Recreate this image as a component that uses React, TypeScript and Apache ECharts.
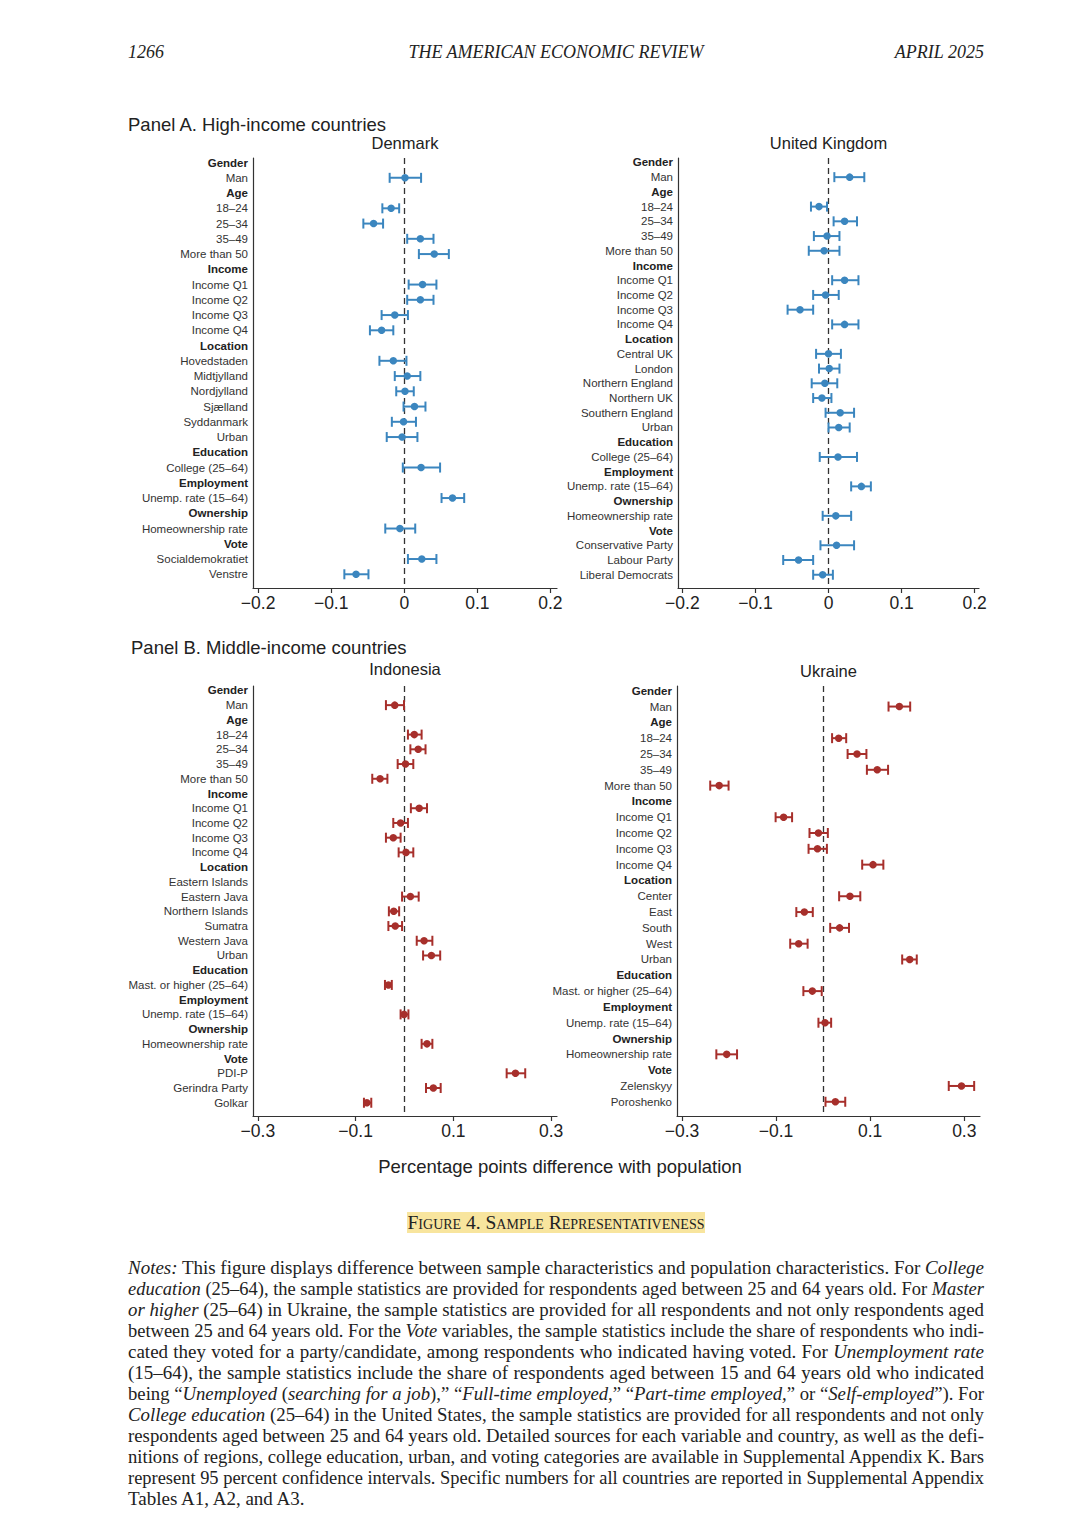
import React, { useEffect, useLayoutEffect, useRef } from 'react';
import * as echarts from 'echarts';

// ---------------- DATA ----------------
const HEADERS = ['Gender', 'Age', 'Income', 'Location', 'Education', 'Employment', 'Ownership', 'Vote'];

const dkCategories = ['Gender', 'Man', 'Age', '18–24', '25–34', '35–49', 'More than 50', 'Income', 'Income Q1', 'Income Q2', 'Income Q3', 'Income Q4', 'Location', 'Hovedstaden', 'Midtjylland', 'Nordjylland', 'Sjælland', 'Syddanmark', 'Urban', 'Education', 'College (25–64)', 'Employment', 'Unemp. rate (15–64)', 'Ownership', 'Homeownership rate', 'Vote', 'Socialdemokratiet', 'Venstre'];
const dkEstimate = [null, 0.001, null, -0.018, -0.042, 0.022, 0.041, null, 0.025, 0.022, -0.013, -0.031, null, -0.015, 0.004, 0.001, 0.014, -0.001, -0.003, null, 0.023, null, 0.066, null, -0.006, null, 0.024, -0.066];
const dkLower = [null, -0.020, null, -0.030, -0.056, 0.004, 0.020, null, 0.006, 0.004, -0.031, -0.047, null, -0.034, -0.013, -0.011, -0.001, -0.017, -0.024, null, -0.002, null, 0.051, null, -0.026, null, 0.005, -0.082];
const dkUpper = [null, 0.023, null, -0.007, -0.029, 0.040, 0.061, null, 0.044, 0.040, 0.005, -0.015, null, 0.003, 0.022, 0.013, 0.029, 0.016, 0.018, null, 0.049, null, 0.082, null, 0.015, null, 0.044, -0.049];

const ukCategories = ['Gender', 'Man', 'Age', '18–24', '25–34', '35–49', 'More than 50', 'Income', 'Income Q1', 'Income Q2', 'Income Q3', 'Income Q4', 'Location', 'Central UK', 'London', 'Northern England', 'Northern UK', 'Southern England', 'Urban', 'Education', 'College (25–64)', 'Employment', 'Unemp. rate (15–64)', 'Ownership', 'Homeownership rate', 'Vote', 'Conservative Party', 'Labour Party', 'Liberal Democrats'];
const ukEstimate = [null, 0.029, null, -0.013, 0.022, -0.002, -0.006, null, 0.022, -0.004, -0.039, 0.022, null, 0.000, 0.001, -0.005, -0.009, 0.016, 0.014, null, 0.013, null, 0.045, null, 0.010, null, 0.011, -0.041, -0.008];
const ukLower = [null, 0.008, null, -0.024, 0.007, -0.020, -0.027, null, 0.005, -0.021, -0.056, 0.005, null, -0.017, -0.013, -0.023, -0.021, -0.004, 0.000, null, -0.012, null, 0.031, null, -0.008, null, -0.011, -0.062, -0.021];
const ukUpper = [null, 0.049, null, -0.002, 0.039, 0.015, 0.015, null, 0.041, 0.014, -0.021, 0.041, null, 0.017, 0.015, 0.012, 0.004, 0.035, 0.029, null, 0.039, null, 0.058, null, 0.031, null, 0.035, -0.021, 0.006];

const idCategories = ['Gender', 'Man', 'Age', '18–24', '25–34', '35–49', 'More than 50', 'Income', 'Income Q1', 'Income Q2', 'Income Q3', 'Income Q4', 'Location', 'Eastern Islands', 'Eastern Java', 'Northern Islands', 'Sumatra', 'Western Java', 'Urban', 'Education', 'Mast. or higher (25–64)', 'Employment', 'Unemp. rate (15–64)', 'Ownership', 'Homeownership rate', 'Vote', 'PDI-P', 'Gerindra Party', 'Golkar'];
const idEstimate = [null, -0.020, null, 0.020, 0.028, 0.002, -0.050, null, 0.030, -0.008, -0.023, 0.003, null, null, 0.012, -0.022, -0.019, 0.040, 0.055, null, -0.033, null, -0.001, null, 0.046, null, 0.227, 0.059, -0.077];
const idLower = [null, -0.038, null, 0.007, 0.012, -0.014, -0.066, null, 0.013, -0.023, -0.038, -0.012, null, null, -0.005, -0.032, -0.033, 0.025, 0.038, null, -0.040, null, -0.008, null, 0.035, null, 0.209, 0.044, -0.083];
const idUpper = [null, -0.001, null, 0.035, 0.043, 0.018, -0.035, null, 0.046, 0.007, -0.008, 0.018, null, null, 0.029, -0.011, -0.005, 0.057, 0.073, null, -0.026, null, 0.008, null, 0.057, null, 0.247, 0.074, -0.068];

const uaCategories = ['Gender', 'Man', 'Age', '18–24', '25–34', '35–49', 'More than 50', 'Income', 'Income Q1', 'Income Q2', 'Income Q3', 'Income Q4', 'Location', 'Center', 'East', 'South', 'West', 'Urban', 'Education', 'Mast. or higher (25–64)', 'Employment', 'Unemp. rate (15–64)', 'Ownership', 'Homeownership rate', 'Vote', 'Zelenskyy', 'Poroshenko'];
const uaEstimate = [null, 0.162, null, 0.033, 0.072, 0.115, -0.221, null, -0.084, -0.010, -0.012, 0.106, null, 0.057, -0.040, 0.035, -0.052, 0.184, null, -0.023, null, 0.004, null, -0.205, null, 0.294, 0.026];
const uaLower = [null, 0.139, null, 0.019, 0.052, 0.093, -0.240, null, -0.101, -0.029, -0.031, 0.083, null, 0.034, -0.057, 0.015, -0.070, 0.168, null, -0.042, null, -0.010, null, -0.227, null, 0.267, 0.005];
const uaUpper = [null, 0.185, null, 0.049, 0.092, 0.138, -0.201, null, -0.066, 0.010, 0.008, 0.128, null, 0.079, -0.022, 0.055, -0.033, 0.199, null, -0.003, null, 0.017, null, -0.183, null, 0.321, 0.047];

const panelATicks = [-0.2, -0.1, 0, 0.1, 0.2];
const panelBTicks = [-0.3, -0.1, 0.1, 0.3];

const panelATitle = 'Panel A. High-income countries';
const panelBTitle = 'Panel B. Middle-income countries';
const xAxisTitle = 'Percentage points difference with population';

// ---------------- STYLE / LAYOUT ----------------
const BLUE = '#3b86bf';
const RED = '#a72f2b';
const SANS = '"Liberation Sans", Arial, Helvetica, sans-serif';
const SERIF = '"Liberation Serif", "Times New Roman", serif';

const panels = [
  { name: 'Denmark', cats: dkCategories, est: dkEstimate, lo: dkLower, hi: dkUpper, ticks: panelATicks, color: BLUE, left: 253, width: 304, top: 158, height: 430, xmin: -0.207, xmax: 0.209, titleY: 143 },
  { name: 'United Kingdom', cats: ukCategories, est: ukEstimate, lo: ukLower, hi: ukUpper, ticks: panelATicks, color: BLUE, left: 678, width: 301, top: 158, height: 430, xmin: -0.206, xmax: 0.206, titleY: 143 },
  { name: 'Indonesia', cats: idCategories, est: idEstimate, lo: idLower, hi: idUpper, ticks: panelBTicks, color: RED, left: 253, width: 304, top: 686, height: 430, xmin: -0.31, xmax: 0.312, titleY: 669 },
  { name: 'Ukraine', cats: uaCategories, est: uaEstimate, lo: uaLower, hi: uaUpper, ticks: panelBTicks, color: RED, left: 677, width: 303, top: 686, height: 430, xmin: -0.3106, xmax: 0.3334, titleY: 671 },
];

const fmtTick = (v: number) => (Math.abs(v) < 1e-9 ? '0' : (v < 0 ? '−' : '') + Math.abs(v).toFixed(1));

function buildOption() {
  const grid: any[] = [];
  const xAxis: any[] = [];
  const yAxis: any[] = [];
  const series: any[] = [];
  const graphic: any[] = [];

  panels.forEach((p, i) => {
    const n = p.cats.length;
    const h = p.height / (n + 0.2);
    const outer = 2 * i;
    const inner = 2 * i + 1;
    grid.push({ left: p.left, top: p.top, width: p.width, height: p.height });
    grid.push({ left: p.left, top: p.top - 0.2 * h, width: p.width, height: n * h });

    xAxis.push({
      type: 'value', gridIndex: outer, min: p.xmin, max: p.xmax, position: 'bottom',
      axisLine: { show: true, onZero: false, lineStyle: { color: '#333', width: 1.2 } },
      axisTick: { show: true, length: 5, customValues: p.ticks, lineStyle: { color: '#333', width: 1.2 } },
      axisLabel: { show: true, customValues: p.ticks, formatter: fmtTick, fontSize: 17.5, fontFamily: SANS, color: '#222', margin: 6 },
      splitLine: { show: false },
    });
    xAxis.push({ type: 'value', gridIndex: inner, min: p.xmin, max: p.xmax, show: false, axisLine: { onZero: false } });

    yAxis.push({
      type: 'value', gridIndex: outer, inverse: true, min: -0.3, max: n - 1 + 0.9, position: 'left',
      axisLine: { show: true, onZero: false, lineStyle: { color: '#333', width: 1.2 } },
      axisTick: { show: false }, axisLabel: { show: false }, splitLine: { show: false },
    });
    yAxis.push({
      type: 'category', gridIndex: inner, inverse: true, data: p.cats, position: 'left',
      axisLine: { show: false, onZero: false }, axisTick: { show: false }, splitLine: { show: false },
      axisLabel: {
        interval: 0, margin: 5,
        formatter: (v: string) => (HEADERS.includes(v) ? `{h|${v}}` : `{n|${v}}`),
        rich: {
          h: { fontWeight: 'bold', fontSize: 11.5, fontFamily: SANS, color: '#222' },
          n: { fontSize: 11.5, fontFamily: SANS, color: '#333' },
        },
      },
    });

    const barData: any[] = [];
    const ptData: any[] = [];
    p.cats.forEach((_, k) => {
      if (p.est[k] !== null && p.est[k] !== undefined) {
        barData.push([p.est[k], k, p.lo[k], p.hi[k]]);
        ptData.push([p.est[k], k]);
      }
    });
    const color = p.color;
    series.push({
      type: 'custom', xAxisIndex: outer, yAxisIndex: outer, silent: true,
      encode: { x: [0, 2, 3], y: 1 },
      data: barData,
      renderItem: (params: any, api: any) => {
        const y = api.value(1);
        const a = api.coord([api.value(2), y]);
        const b = api.coord([api.value(3), y]);
        const c = 5;
        const st = { stroke: color, lineWidth: 2 };
        return {
          type: 'group',
          children: [
            { type: 'line', shape: { x1: a[0], y1: a[1], x2: b[0], y2: b[1] }, style: st },
            { type: 'line', shape: { x1: a[0], y1: a[1] - c, x2: a[0], y2: a[1] + c }, style: st },
            { type: 'line', shape: { x1: b[0], y1: b[1] - c, x2: b[0], y2: b[1] + c }, style: st },
          ],
        };
      },
      z: 3,
    });
    series.push({
      type: 'scatter', xAxisIndex: outer, yAxisIndex: outer, silent: true,
      data: ptData, symbol: 'circle', symbolSize: 7.5,
      itemStyle: { color, opacity: 1 },
      z: 4,
      markLine: {
        silent: true, symbol: 'none', label: { show: false },
        lineStyle: { color: '#333', type: [6, 4], width: 1.3 },
        data: [{ xAxis: 0 }],
        z: 2,
      },
    });

    graphic.push({
      type: 'text', x: p.left + p.width / 2, y: p.titleY,
      style: { text: p.name, fontSize: 16.5, fontFamily: SANS, fill: '#222', textAlign: 'center', textVerticalAlign: 'middle' },
    });
  });

  graphic.push({ type: 'text', x: 128, y: 124, style: { text: panelATitle, fontSize: 18.5, fontFamily: SANS, fill: '#222', textAlign: 'left', textVerticalAlign: 'middle' } });
  graphic.push({ type: 'text', x: 131, y: 647, style: { text: panelBTitle, fontSize: 18.5, fontFamily: SANS, fill: '#222', textAlign: 'left', textVerticalAlign: 'middle' } });
  graphic.push({ type: 'text', x: 560, y: 1166, style: { text: xAxisTitle, fontSize: 18.5, fontFamily: SANS, fill: '#222', textAlign: 'center', textVerticalAlign: 'middle' } });

  return { animation: false, backgroundColor: '#ffffff', grid, xAxis, yAxis, series, graphic };
}

const noteLines: React.ReactNode[] = [
  <><i>Notes:</i> This figure displays difference between sample characteristics and population characteristics. For <i>College</i></>,
  <><i>education</i> (25–64), the sample statistics are provided for respondents aged between 25 and 64 years old. For <i>Master</i></>,
  <><i>or higher</i> (25–64) in Ukraine, the sample statistics are provided for all respondents and not only respondents aged</>,
  <>between 25 and 64 years old. For the <i>Vote</i> variables, the sample statistics include the share of respondents who indi-</>,
  <>cated they voted for a party/candidate, among respondents who indicated having voted. For <i>Unemployment rate</i></>,
  <>(15–64), the sample statistics include the share of respondents aged between 15 and 64 years old who indicated</>,
  <>being “<i>Unemployed</i> (<i>searching for a job</i>),” “<i>Full-time employed,</i>” “<i>Part-time employed,</i>” or “<i>Self-employed</i>”). For</>,
  <><i>College education</i> (25–64) in the United States, the sample statistics are provided for all respondents and not only</>,
  <>respondents aged between 25 and 64 years old. Detailed sources for each variable and country, as well as the defi-</>,
  <>nitions of regions, college education, urban, and voting categories are available in Supplemental Appendix K. Bars</>,
  <>represent 95 percent confidence intervals. Specific numbers for all countries are reported in Supplemental Appendix</>,
  <>Tables A1, A2, and A3.</>,
];

const NOTE_W = 856;

export default function App() {
  const ref = useRef<HTMLDivElement>(null);
  const lineRefs = useRef<(HTMLSpanElement | null)[]>([]);

  useEffect(() => {
    if (!ref.current) return;
    const chart = echarts.init(ref.current, undefined, { renderer: 'svg' });
    chart.setOption(buildOption());
    return () => chart.dispose();
  }, []);

  useLayoutEffect(() => {
    lineRefs.current.forEach((el, i) => {
      if (!el) return;
      const w = el.getBoundingClientRect().width;
      const last = i === noteLines.length - 1;
      if (w > NOTE_W) {
        el.style.transform = `scaleX(${NOTE_W / w})`;
      } else if (!last) {
        const text = el.textContent || '';
        const spaces = (text.match(/ /g) || []).length;
        if (spaces > 0) el.style.wordSpacing = `${(NOTE_W - w) / spaces}px`;
      }
    });
  }, []);

  return (
    <div style={{ position: 'absolute', left: 0, top: 0, width: 1080, height: 1537, background: '#fff', overflow: 'hidden' }}>
      <div ref={ref} style={{ position: 'absolute', left: 0, top: 0, width: 1080, height: 1537 }} />
      <div style={{ position: 'absolute', left: 128, top: 40, width: 856, height: 24, fontFamily: SERIF, fontStyle: 'italic', fontSize: 18, color: '#222', lineHeight: '24px' }}>
        <span style={{ position: 'absolute', left: 0 }}>1266</span>
        <span style={{ position: 'absolute', left: 0, width: 856, textAlign: 'center' }}>THE AMERICAN ECONOMIC REVIEW</span>
        <span style={{ position: 'absolute', right: 0 }}>APRIL 2025</span>
      </div>
      <div style={{ position: 'absolute', left: 0, top: 1212, width: 1112, textAlign: 'center' }}>
        <span style={{ fontFamily: SERIF, fontVariant: 'small-caps', fontSize: 19.5, color: '#222', background: '#f8e59e', padding: '0px 1px', lineHeight: '22px' }}>
          Figure 4. Sample Representativeness
        </span>
      </div>
      <div style={{ position: 'absolute', left: 128, top: 1257, width: NOTE_W, fontFamily: SERIF, fontSize: 19, color: '#222', lineHeight: '21px' }}>
        {noteLines.map((ln, i) => (
          <div key={i} style={{ height: 21, whiteSpace: 'nowrap' }}>
            <span ref={(el) => { lineRefs.current[i] = el; }} style={{ display: 'inline-block', transformOrigin: 'left center', whiteSpace: 'nowrap' }}>{ln}</span>
          </div>
        ))}
      </div>
    </div>
  );
}
